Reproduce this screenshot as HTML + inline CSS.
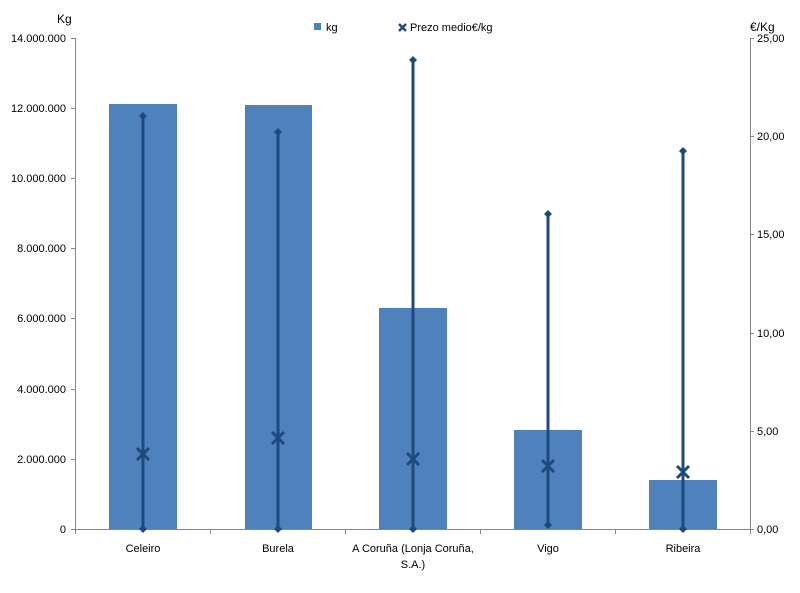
<!DOCTYPE html>
<html><head><meta charset="utf-8"><style>
body{margin:0;background:#fff;}
svg{display:block;font-family:"Liberation Sans",sans-serif;}
</style></head><body>
<svg width="800" height="593" viewBox="0 0 800 593">
<g font-size="11" fill="#000">
<text x="57" y="23" font-size="12">Kg</text>
<text x="750" y="31" font-size="12">€/Kg</text>
<g text-anchor="end">
<text x="66" y="42">14.000.000</text>
<text x="66" y="112">12.000.000</text>
<text x="66" y="182">10.000.000</text>
<text x="66" y="252">8.000.000</text>
<text x="66" y="322">6.000.000</text>
<text x="66" y="393">4.000.000</text>
<text x="66" y="463">2.000.000</text>
<text x="66" y="533">0</text>
</g>
<g>
<text x="757" y="42">25,00</text>
<text x="757" y="140">20,00</text>
<text x="757" y="238">15,00</text>
<text x="757" y="337">10,00</text>
<text x="757" y="435">5,00</text>
<text x="757" y="533">0,00</text>
</g>
<g text-anchor="middle">
<text x="143" y="552">Celeiro</text>
<text x="278" y="552">Burela</text>
<text x="413" y="552">A Coruña (Lonja Coruña,</text>
<text x="413" y="568">S.A.)</text>
<text x="548" y="552">Vigo</text>
<text x="683" y="552">Ribeira</text>
</g>
<rect x="314" y="23" width="7" height="7" fill="#4F81BD"/>
<text x="326" y="31">kg</text>
<text x="410" y="31">Prezo medio€/kg</text>
<path d="M399 24l7 7M406 24l-7 7" stroke="#1F497D" stroke-width="2.5"/>
</g>
<g stroke="#868686" stroke-width="1" fill="none">
<path d="M75.5 38v491.5M750.5 38v491.5M75 529.5h676"/>
<path d="M71 38.5h4M71 108.5h4M71 178.5h4M71 248.5h4M71 318.5h4M71 389.5h4M71 459.5h4M71 529.5h4"/>
<path d="M750 38.5h4M750 136.5h4M750 234.5h4M750 333.5h4M750 431.5h4M750 529.5h4"/>
<path d="M75.5 529v5M210.5 529v5M345.5 529v5M480.5 529v5M615.5 529v5M750.5 529v5"/>
</g>
<g fill="#4F81BD">
<rect x="109" y="104" width="68" height="425"/>
<rect x="245" y="105" width="67" height="424"/>
<rect x="379" y="308" width="68" height="221"/>
<rect x="514" y="430" width="68" height="99"/>
<rect x="649" y="480" width="68" height="49"/>
</g>
<g stroke="#1F497D" stroke-width="3" fill="#1F497D">
<path d="M143 116V529M278 132V529M413 60V529M548 214V525M683 151V529"/>
</g>
<g fill="#1F497D">
<path d="M143 112l4 4-4 4-4-4zM143 525l4 4-4 4-4-4z"/>
<path d="M278 128l4 4-4 4-4-4zM278 525l4 4-4 4-4-4z"/>
<path d="M413 56l4 4-4 4-4-4zM413 525l4 4-4 4-4-4z"/>
<path d="M548 210l4 4-4 4-4-4zM548 521l4 4-4 4-4-4z"/>
<path d="M683 147l4 4-4 4-4-4zM683 525l4 4-4 4-4-4z"/>
</g>
<g stroke="#1F497D" stroke-width="3" fill="none">
<path d="M137 448l12 12M149 448l-12 12"/>
<path d="M272 432l12 12M284 432l-12 12"/>
<path d="M407 453l12 12M419 453l-12 12"/>
<path d="M542 460l12 12M554 460l-12 12"/>
<path d="M677 466l12 12M689 466l-12 12"/>
</g>
</svg>
</body></html>
